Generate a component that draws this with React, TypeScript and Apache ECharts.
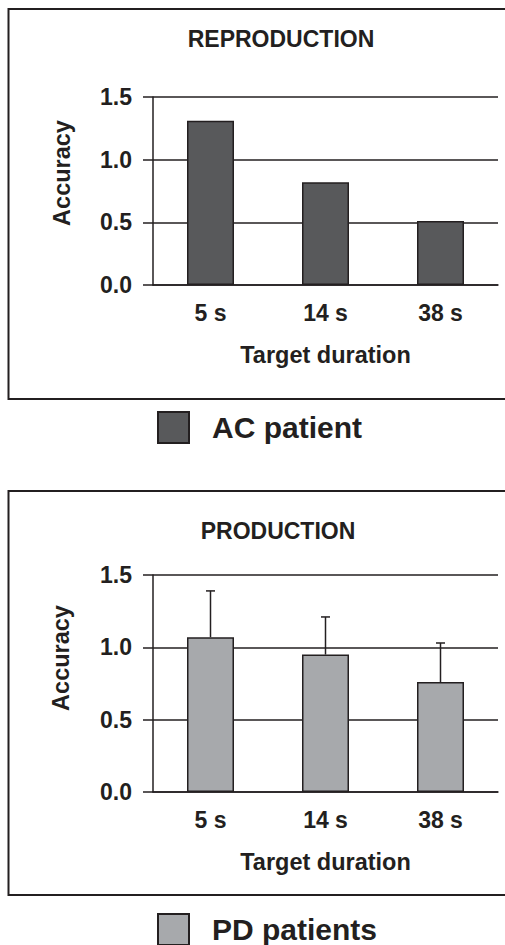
import React, { useEffect, useRef } from "react";
import * as echarts from "echarts";

const categories = ["5 s", "14 s", "38 s"];
const yTicks = [0, 0.5, 1.0, 1.5];
const reproductionAC = [1.31, 0.82, 0.51];
const productionPD = [1.07, 0.95, 0.76];
const productionPDUpper = [1.39, 1.21, 1.03];

const FONT = "'Liberation Sans', Arial, Helvetica, sans-serif";
const INK = "#231f20";

export default function App() {
  const ref = useRef<HTMLDivElement>(null);
  useEffect(() => {
    if (!ref.current) return;
    const chart = echarts.init(ref.current, undefined, { renderer: "svg" });

    const yAxisCommon = (gridIndex: number) => ({
      type: "value",
      gridIndex,
      min: yTicks[0],
      max: yTicks[yTicks.length - 1],
      interval: 0.5,
      axisLine: { show: true, lineStyle: { color: INK, width: 1.5 } },
      axisTick: { show: true, length: 10, lineStyle: { color: INK, width: 1.5 } },
      axisLabel: {
        margin: 21,
        color: INK,
        fontFamily: FONT,
        fontWeight: "bold",
        fontSize: 23,
        formatter: (v: number) => v.toFixed(1),
      },
      splitLine: { show: true, lineStyle: { color: INK, width: 1.5 } },
    });

    const xAxisCommon = (gridIndex: number) => ({
      type: "category",
      gridIndex,
      data: categories,
      axisLine: { show: true, lineStyle: { color: INK, width: 1.5 } },
      axisTick: { show: false },
      axisLabel: {
        margin: 16,
        color: INK,
        fontFamily: FONT,
        fontWeight: "bold",
        fontSize: 23,
      },
      name: "Target duration",
      nameLocation: "middle",
      nameGap: 58,
      nameTextStyle: {
        color: INK,
        fontFamily: FONT,
        fontWeight: "bold",
        fontSize: 23.5,
      },
    });

    const errorRender = (params: any, api: any) => {
      const base = api.coord([api.value(0), api.value(1)]);
      const top = api.coord([api.value(0), api.value(2)]);
      const st = { stroke: INK, lineWidth: 1.5 };
      return {
        type: "group",
        children: [
          { type: "line", shape: { x1: base[0], y1: base[1], x2: top[0], y2: top[1] }, style: st },
          { type: "line", shape: { x1: top[0] - 4.5, y1: top[1], x2: top[0] + 4.5, y2: top[1] }, style: st },
        ],
      };
    };

    const textStyle = (x: number, y: number, text: string, size: number, rotation = 0) => ({
      type: "text",
      x,
      y,
      rotation,
      style: {
        text,
        fill: INK,
        font: `bold ${size}px ${FONT}`,
        textAlign: "center",
        textVerticalAlign: "middle",
      },
    });

    const legendText = {
      color: INK,
      fontFamily: FONT,
      fontWeight: "bold",
      fontSize: 30,
      padding: [0, 0, 0, 18],
    };

    chart.setOption({
      animation: false,
      backgroundColor: "#ffffff",
      grid: [
        { left: 153, right: 7, top: 97, height: 188 },
        { left: 153, right: 7, top: 575, height: 217 },
      ],
      xAxis: [xAxisCommon(0), xAxisCommon(1)],
      yAxis: [yAxisCommon(0), yAxisCommon(1)],
      legend: [
        {
          data: ["AC patient"],
          left: 157,
          top: 411,
          padding: 0,
          itemWidth: 31,
          itemHeight: 31,
          icon: "rect",
          textStyle: legendText,
        },
        {
          data: ["PD patients"],
          left: 157,
          top: 913,
          padding: 0,
          itemWidth: 31,
          itemHeight: 31,
          icon: "rect",
          textStyle: legendText,
        },
      ],
      series: [
        {
          name: "AC patient",
          type: "bar",
          xAxisIndex: 0,
          yAxisIndex: 0,
          data: reproductionAC,
          barWidth: 47,
          itemStyle: { color: "#58595b", borderColor: INK, borderWidth: 1.5 },
        },
        {
          name: "PD patients",
          type: "bar",
          xAxisIndex: 1,
          yAxisIndex: 1,
          data: productionPD,
          barWidth: 47,
          itemStyle: { color: "#a7a9ac", borderColor: INK, borderWidth: 1.5 },
        },
        {
          name: "PD error",
          type: "custom",
          xAxisIndex: 1,
          yAxisIndex: 1,
          z: 5,
          renderItem: errorRender,
          data: productionPD.map((v, i) => [i, v, productionPDUpper[i]]),
        },
      ],
      graphic: [
        {
          type: "rect",
          shape: { x: 8.5, y: 9, width: 510, height: 390 },
          style: { fill: "none", stroke: INK, lineWidth: 2 },
        },
        {
          type: "rect",
          shape: { x: 8.5, y: 491, width: 510, height: 404 },
          style: { fill: "none", stroke: INK, lineWidth: 2 },
        },
        textStyle(281, 39, "REPRODUCTION", 23),
        textStyle(278, 531, "PRODUCTION", 23),
        textStyle(62, 173, "Accuracy", 23.5, Math.PI / 2),
        textStyle(61, 658, "Accuracy", 23.5, Math.PI / 2),
      ],
    });

    return () => chart.dispose();
  }, []);

  return (
    <div
      ref={ref}
      style={{ position: "absolute", left: 0, top: 0, width: 505, height: 945 }}
    />
  );
}
